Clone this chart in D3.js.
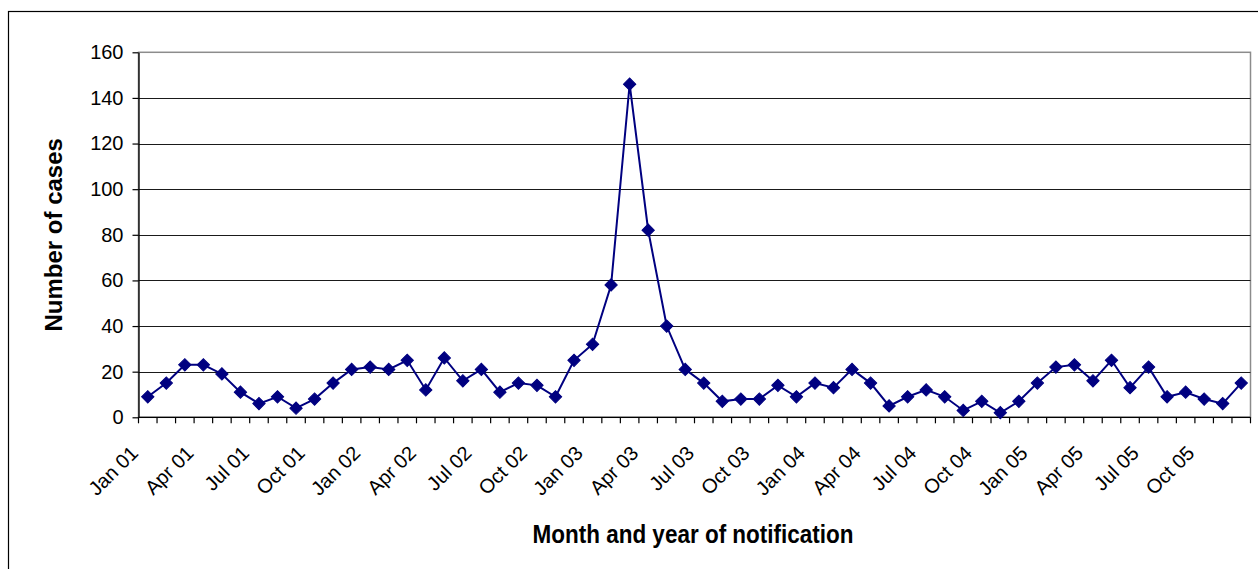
<!DOCTYPE html>
<html>
<head>
<meta charset="utf-8">
<script src="https://cdn.jsdelivr.net/npm/d3@7"></script>
<style>
  html, body { margin: 0; padding: 0; background: #fff; }
  svg { display: block; font-family: "Liberation Sans", Arial, sans-serif; }
</style>
</head>
<body>
<svg id="chart" width="1258" height="569"></svg>
<script>
// ---- data ----
const monthNames = ["Jan","Feb","Mar","Apr","May","Jun","Jul","Aug","Sep","Oct","Nov","Dec"];
const years = ["01","02","03","04","05"];
const categories = years.flatMap(y => monthNames.map(m => m + " " + y));
const cases2001 = [9, 15, 23, 23, 19, 11, 6, 9, 4, 8, 15, 21];
const cases2002 = [22, 21, 25, 12, 26, 16, 21, 11, 15, 14, 9, 25];
const cases2003 = [32, 58, 146, 82, 40, 21, 15, 7, 8, 8, 14, 9];
const cases2004 = [15, 13, 21, 15, 5, 9, 12, 9, 3, 7, 2, 7];
const cases2005 = [15, 22, 23, 16, 25, 13, 22, 9, 11, 8, 6, 15];
const cases = [].concat(cases2001, cases2002, cases2003, cases2004, cases2005);
const yTicks = [0, 20, 40, 60, 80, 100, 120, 140, 160];
const xTickLabels = categories.filter((c, i) => i % 3 === 0);
const yTitle = "Number of cases";
const xTitle = "Month and year of notification";

// ---- layout ----
const svg = d3.select("#chart");
const pLeft = 138.5, pRight = 1250.5, pTop = 52.3, pBottom = 417.3;

const x = d3.scaleBand().domain(categories).range([pLeft, pRight]).padding(0);
const y = d3.scaleLinear().domain([0, 160]).range([pBottom, pTop]);

// outer chart border (extends past right/bottom edges)
svg.append("rect")
  .attr("x", 8.5).attr("y", 11.5)
  .attr("width", 1300).attr("height", 620)
  .attr("fill", "none").attr("stroke", "#000").attr("stroke-width", 1.2);

// plot area border
svg.append("rect")
  .attr("x", pLeft).attr("y", pTop)
  .attr("width", pRight - pLeft).attr("height", pBottom - pTop)
  .attr("fill", "none").attr("stroke", "#8c8c8c").attr("stroke-width", 1.5);

// gridlines
svg.append("g")
  .selectAll("line")
  .data(yTicks.filter(t => t > 0 && t < 160))
  .join("line")
  .attr("x1", pLeft).attr("x2", pRight)
  .attr("y1", d => Math.round(y(d)) + 0.5).attr("y2", d => Math.round(y(d)) + 0.5)
  .attr("stroke", "#1a1a1a").attr("stroke-width", 1);

// y axis
const yAxis = svg.append("g")
  .attr("transform", `translate(${pLeft},0)`)
  .call(d3.axisLeft(y).tickValues(yTicks).tickSize(6).tickPadding(9).tickSizeOuter(0));
yAxis.select(".domain").attr("stroke", "#000").attr("stroke-width", 1.3);
yAxis.selectAll(".tick line").attr("stroke", "#000").attr("stroke-width", 1.2);
yAxis.selectAll(".tick text")
  .attr("font-size", 20).attr("fill", "#000")
  .attr("font-family", "'Liberation Sans', Arial, sans-serif");

// x axis: ticks at category boundaries
const boundaries = d3.range(categories.length + 1).map(i => pLeft + i * x.step());
const xAxisG = svg.append("g");
xAxisG.append("line")
  .attr("x1", pLeft).attr("x2", pRight)
  .attr("y1", pBottom).attr("y2", pBottom)
  .attr("stroke", "#000").attr("stroke-width", 1.3);
xAxisG.selectAll("line.tick")
  .data(boundaries)
  .join("line")
  .attr("class", "tick")
  .attr("x1", d => d).attr("x2", d => d)
  .attr("y1", pBottom).attr("y2", pBottom + 6)
  .attr("stroke", "#000").attr("stroke-width", 1.2);

xAxisG.selectAll("text")
  .data(xTickLabels)
  .join("text")
  .attr("transform", d => `translate(${x(d) + x.bandwidth() / 2 - 8.5},${pBottom + 37}) rotate(-45)`)
  .attr("text-anchor", "end")
  .attr("font-size", 20)
  .attr("fill", "#000")
  .text(d => d);

// line
const line = d3.line()
  .x((d, i) => x(categories[i]) + x.bandwidth() / 2)
  .y(d => y(d));
svg.append("path")
  .datum(cases)
  .attr("d", line)
  .attr("fill", "none")
  .attr("stroke", "#000080")
  .attr("stroke-width", 2);

// diamond markers
const diamond = d3.symbol().type(d3.symbolSquare).size(76);
svg.append("g")
  .selectAll("path")
  .data(cases)
  .join("path")
  .attr("d", diamond)
  .attr("transform", (d, i) => `translate(${x(categories[i]) + x.bandwidth() / 2},${y(d)}) rotate(45)`)
  .attr("fill", "#000080")
  .attr("stroke", "#000080")
  .attr("stroke-width", 1);

// axis titles
svg.append("text")
  .attr("transform", `translate(61.5,${(pTop + pBottom) / 2}) rotate(-90)`)
  .attr("text-anchor", "middle")
  .attr("font-size", 24)
  .attr("font-weight", "bold")
  .attr("fill", "#000")
  .text(yTitle);

svg.append("text")
  .attr("transform", `translate(${(pLeft + pRight) / 2 - 1.5},542.5) scale(1,1.15)`)
  .attr("text-anchor", "middle")
  .attr("font-size", 22.5)
  .attr("font-weight", "bold")
  .attr("fill", "#000")
  .text(xTitle);
</script>
</body>
</html>
